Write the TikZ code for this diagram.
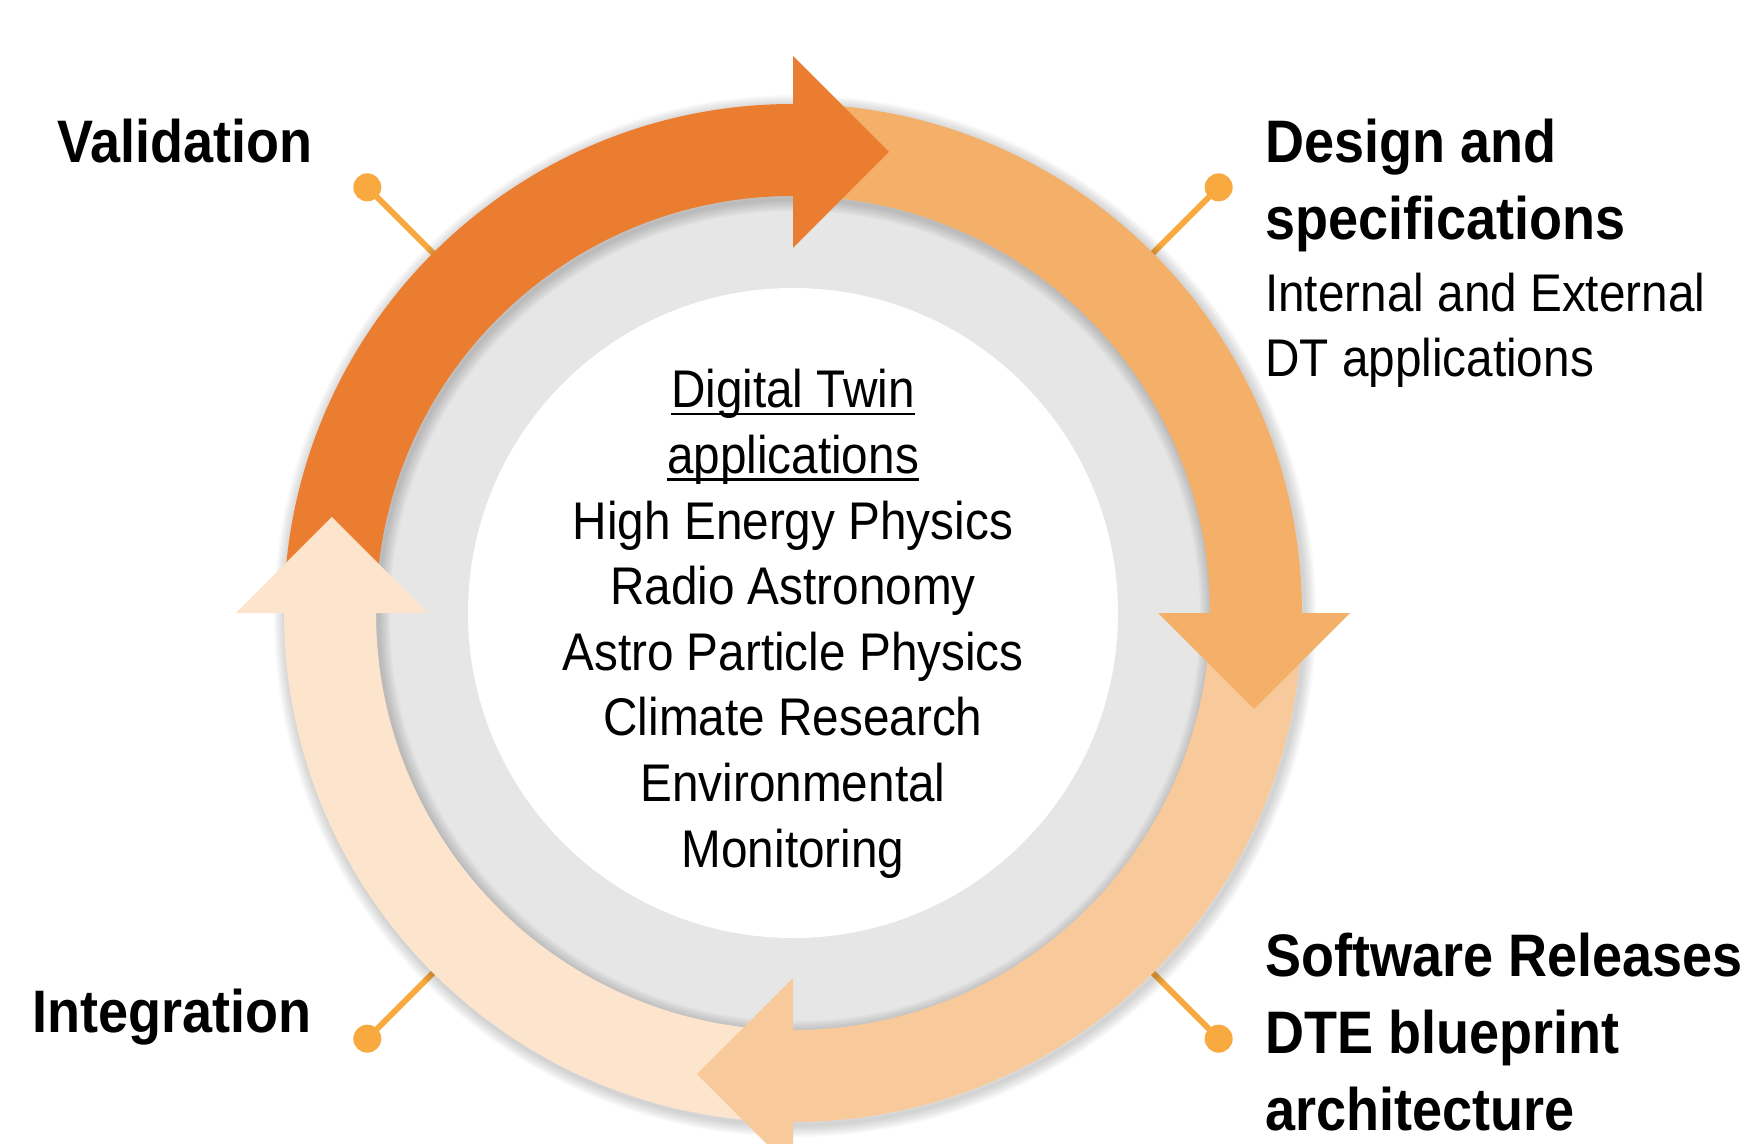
\documentclass[tikz,border=0pt]{standalone}
\usepackage{fontspec}
\usepackage{xcolor}
\setmainfont{Liberation Sans}[FakeStretch=0.9]
\usetikzlibrary{positioning,calc}

\definecolor{cycleA}{HTML}{EB7D31}
\definecolor{cycleB}{HTML}{F4B068}
\definecolor{cycleC}{HTML}{F8C99A}
\definecolor{cycleD}{HTML}{FCE4CD}
\definecolor{pinorange}{HTML}{F8A93F}
\definecolor{ringgray}{HTML}{E6E6E6}

\newcommand\ulword[1]{\sbox0{#1}\rlap{\rule[-7.5pt]{\wd0}{2.5pt}}\usebox0}

\begin{document}
\begin{tikzpicture}[x=1pt,y=1pt,
        stage/.style={font=\fontsize{60}{77}\selectfont\bfseries, inner sep=0pt, align=left},
        note/.style={font=\fontsize{53}{65}\selectfont, inner sep=0pt, align=left},
        pin/.style={draw=pinorange, line width=6pt},
        pindot/.style={circle, fill=pinorange, minimum size=28pt, inner sep=0pt}]

    \useasboundingbox (-793,-530) rectangle (957,613);

    % pins, drawn first so the ring hides their inner ends
    \foreach \ang/\nm in {135/val, 45/des, -45/rel, -135/int}{
        \coordinate (\nm foot) at (\ang:480);
        \node[pindot] (\nm dot) at (\ang:602) {};
        \draw[pin] (\nm foot) -- (\nm dot.center);
    }

    % soft shadow round the ring
    \foreach \k in {1,...,8}
        \draw[black, opacity=0.025, line width=\k*3pt] (2,-3) circle (509);

    \fill[ringgray] (0,0) circle (440);
    \foreach \k in {1,...,8}
        \draw[black, opacity=0.025, line width=\k*3pt] (2,-3) circle (417);
    \fill[white] (0,0) circle (325);

    % arrow bodies
    \foreach \a/\b/\col in {180/90/cycleA, 90/0/cycleB, 0/-90/cycleC, -90/-180/cycleD}
        \fill[\col] (\a:509) arc[start angle=\a, end angle=\b, radius=509]
            -- (\b:417) arc[start angle=\b, end angle=\a, radius=417] -- cycle;

    % arrow heads
    \foreach \b/\col in {90/cycleA, 0/cycleB, -90/cycleC, 180/cycleD}
        \fill[\col] (\b:365) -- (\b:557) -- ($(\b:461)+(\b-90:96)$) -- cycle;

    % base anchors sit on the last line
    \node[stage, anchor=base east] (validation) at (-480,450) {Validation};
    \node[stage, anchor=base east] (integration) at (-481,-419) {Integration};
    \node[stage, anchor=base west] (design) at (472,373) {Design and\\specifications};
    \node[note, anchor=base west] (designnote) at (472,236) {Internal and External\\DT applications};
    \node[stage, anchor=base west] (release) at (472,-517) {Software Releases\\DTE blueprint\\architecture};

    \node[font=\fontsize{53}{65.6}\selectfont, align=center, inner sep=0pt, anchor=base] (apps) at (0,-254) {
        \ulword{Digital Twin}\\
        \ulword{applications}\\
        High Energy Physics\\
        Radio Astronomy\\
        Astro Particle Physics\\
        Climate Research\\
        Environmental\\
        Monitoring
    };
\end{tikzpicture}
\end{document}
